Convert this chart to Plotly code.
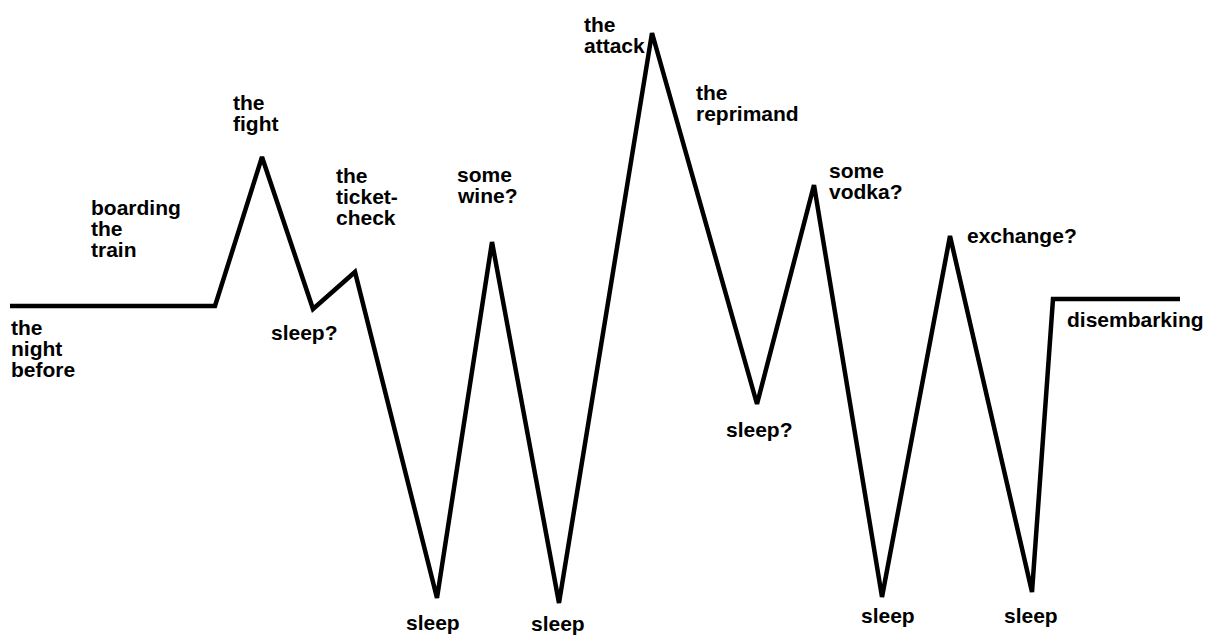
import plotly.graph_objects as go

# Journey timeline: position along the trip and emotional level at each turning point
trip_x = [10, 215, 262, 313, 355, 437, 492, 559, 652, 757, 814, 882, 950, 1032, 1053, 1180]
level_y = [330, 330, 479, 327, 364, 38, 394, 33, 603, 232, 451, 39, 400, 44, 337, 337]

# Text of each event label (one entry per line) and the turning point it belongs to
label_lines = [
    ["the", "night", "before"],
    ["boarding", "the", "train"],
    ["the", "fight"],
    ["sleep?"],
    ["the", "ticket-", "check"],
    ["sleep"],
    ["some", "wine?"],
    ["sleep"],
    ["the", "attack"],
    ["the", "reprimand"],
    ["sleep?"],
    ["some", "vodka?"],
    ["sleep"],
    ["exchange?"],
    ["sleep"],
    ["disembarking"],
]
label_point = [0, 1, 2, 3, 4, 5, 6, 7, 8, 8, 9, 10, 11, 12, 13, 14]

# Placement of each label's first line relative to its point (pixels, right / down)
label_offset = [
    (2, 14), (-123, -106), (-28, -62), (-41, 16), (-18, -104), (-30, 17),
    (-34, -75), (-27, 13), (-67, -16), (45, 52), (-30, 18), (16, -22),
    (-20, 11), (18, -8), (-27, 16), (15, 13),
]

W, H = 1216, 636
FONT = dict(family="Liberation Sans, Arial, Helvetica, sans-serif", size=21, color="black")
LINE_STEP = 21
ASC_PAD = 6   # distance from annotation box top to the top of tall letters
LEFT_PAD = 3

fig = go.Figure()
fig.add_trace(go.Scatter(
    x=trip_x, y=level_y, mode="lines",
    line=dict(color="black", width=4.5),
    hoverinfo="skip", showlegend=False,
))

annotations = []
for lines, idx, (dx, dy) in zip(label_lines, label_point, label_offset):
    for k, txt in enumerate(lines):
        annotations.append(dict(
            x=trip_x[idx], y=level_y[idx], xref="x", yref="y",
            text="<b>%s</b>" % txt, showarrow=False,
            xanchor="left", yanchor="top",
            xshift=dx - LEFT_PAD, yshift=-(dy + k * LINE_STEP - ASC_PAD),
            font=FONT,
        ))

fig.update_layout(
    width=W, height=H,
    margin=dict(l=0, r=0, t=0, b=0),
    paper_bgcolor="white", plot_bgcolor="white",
    xaxis=dict(range=[0, W], visible=False, fixedrange=True),
    yaxis=dict(range=[0, H], visible=False, fixedrange=True),
    annotations=annotations,
)

fig.write_html("out.html")
